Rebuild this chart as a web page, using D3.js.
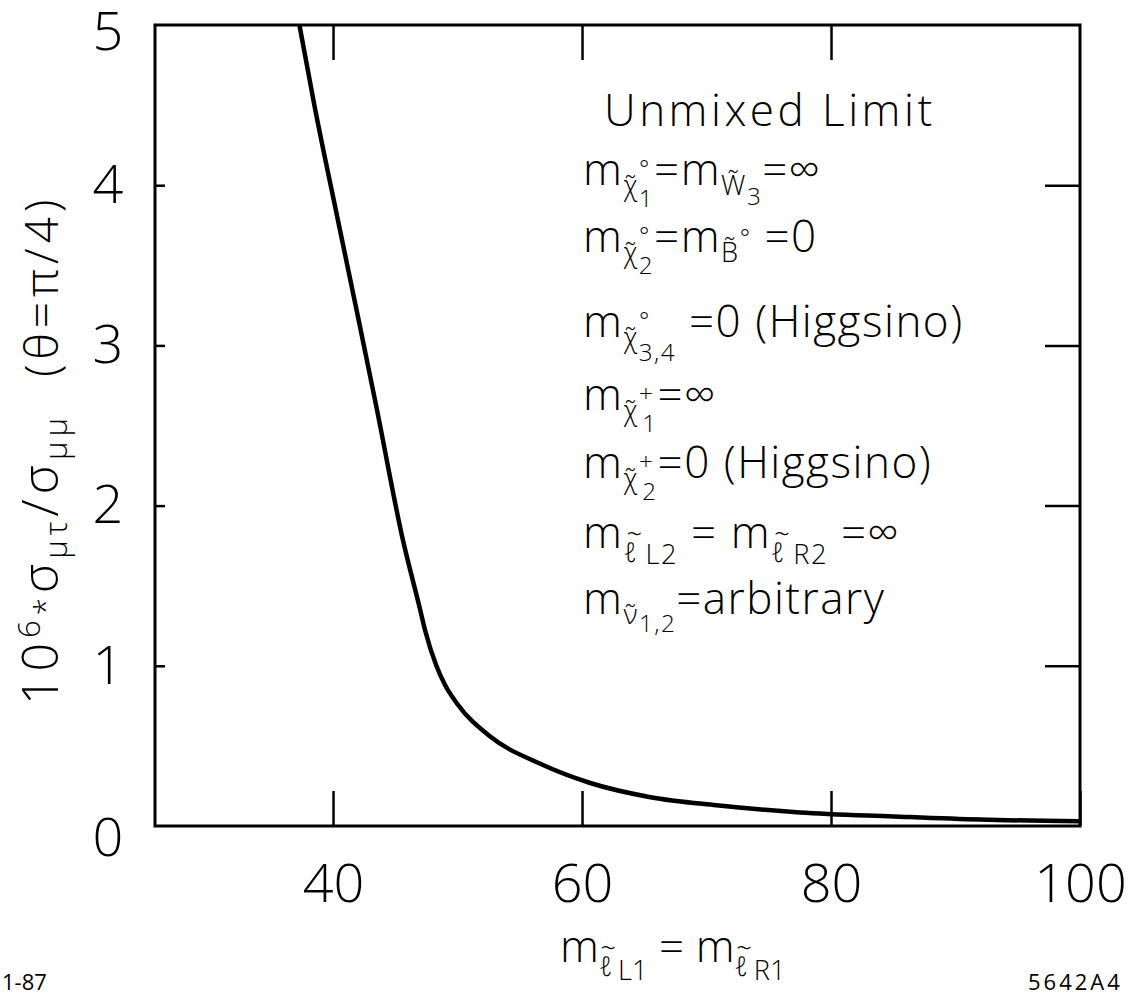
<!DOCTYPE html>
<html>
<head>
<meta charset="utf-8">
<script src="https://cdn.jsdelivr.net/npm/d3@7"></script>
<style>
  body { margin: 0; background: #fff; }
  text { font-family: "Open Sans", "DejaVu Sans", sans-serif; font-weight: 300; fill: #000; }
</style>
</head>
<body>
<div id="chart"></div>
<script>
// ************************** DATA **************************
// slepton mass m(l~L1) = m(l~R1)
var slepMass = [37.3, 38.5, 40.4, 42, 43.5, 45.6, 47.0, 47.4, 48.3, 49.0, 50, 52.6, 56.6, 60.6, 65.5, 70.8, 77.5, 85, 92, 100];
// 10^6 * sigma(mu tau) / sigma(mu mu)
var crossRatio = [5.0, 4.5, 3.78, 3.18, 2.61, 1.79, 1.35, 1.22, 1.0, 0.88, 0.76, 0.56, 0.39, 0.27, 0.18, 0.13, 0.085, 0.06, 0.04, 0.03];

var xTicks = [40, 60, 80, 100];
var yTicks = [0, 1, 2, 3, 4, 5];
var xDomain = [25.7, 100];
var yDomain = [0, 5];

// rich text segments: [text, baseline shift, size factor, dx]
var legendTitle = "Unmixed Limit";
var legendLines = [
  [["m"], ["χ\u0303", 10, 0.62], ["°", -8, 0.55, 0], ["1", 22, 0.55, -12], ["=", 0, 1], ["m"], ["W\u0303", 10, 0.62], ["3", 20, 0.55], ["=∞", 0, 1]],
  [["m"], ["χ\u0303", 10, 0.62], ["°", -8, 0.55, 0], ["2", 22, 0.55, -12], ["=", 0, 1], ["m"], ["B\u0303", 10, 0.62], ["°", -6, 0.55], [" =0", 0, 1]],
  [["m"], ["χ\u0303", 10, 0.62], ["°", -8, 0.55, 0], ["3,4", 24, 0.55, -12], ["  =0 (Higgsino)", 0, 1]],
  [["m"], ["χ\u0303", 10, 0.62], ["+", -8, 0.55, 0], ["1", 22, 0.55, -12], ["=∞", 0, 1]],
  [["m"], ["χ\u0303", 10, 0.62], ["+", -8, 0.55, 0], ["2", 22, 0.55, -12], ["=0 (Higgsino)", 0, 1]],
  [["m"], ["ℓ", 14, 0.62], ["~", -4, 0.62, -12], ["L2", 16, 0.62, 2], [" = ", 0, 1], ["m"], ["ℓ", 14, 0.62], ["~", -4, 0.62, -12], ["R2", 16, 0.62, 2], [" =∞", 0, 1]],
  [["m"], ["ν\u0303", 10, 0.62], ["1,2", 18, 0.55], ["=arbitrary", 0, 1]]
];
var xTitle = [["m"], ["ℓ", 14, 0.62], ["~", -4, 0.62, -12], ["L1", 18, 0.62, 2], [" = ", 0, 1], ["m"], ["ℓ", 14, 0.62], ["~", -4, 0.62, -12], ["R1", 18, 0.62, 2]];
var yTitle = [["10"], ["6", -18, 0.62], ["*", -2, 0.62], ["σ", 0, 1], ["μτ", 9, 0.62], ["/σ", 0, 1], ["μμ", 9, 0.62], ["(θ=π/4)", 0, 0.92, 36]];

// ************************** CANVAS **************************
var svgWidth = 1148, svgHeight = 1001;
var frame = {left: 155, right: 1080, top: 25, bottom: 826};

var svg = d3.select("#chart").append("svg")
  .attr("width", svgWidth)
  .attr("height", svgHeight);

var x = d3.scaleLinear().domain(xDomain).range([frame.left, frame.right]);
var y = d3.scaleLinear().domain(yDomain).range([frame.bottom, frame.top]);

// rich text helper: segments carry their own baseline shift
function richText(sel, segs, baseSize) {
  var cur = 0;
  segs.forEach(function(s) {
    var shift = s[1] || 0, k = s[2] || 1;
    sel.append("tspan")
      .attr("dy", shift - cur)
      .attr("dx", s[3] || 0)
      .style("font-size", (baseSize * k) + "px")
      .text(s[0]);
    cur = shift;
  });
  return sel;
}

// ************************** AXES **************************
var tickFont = "54px";

var bottomAxis = svg.append("g")
  .attr("transform", `translate(0, ${frame.bottom})`)
  .call(d3.axisBottom(x).tickValues(xTicks).tickSize(-35).tickPadding(38).tickSizeOuter(0));

var topAxis = svg.append("g")
  .attr("transform", `translate(0, ${frame.top})`)
  .call(d3.axisTop(x).tickValues(xTicks.slice(0, 3)).tickSize(-35).tickFormat("").tickSizeOuter(0));

var leftAxis = svg.append("g")
  .attr("transform", `translate(${frame.left}, 0)`)
  .call(d3.axisLeft(y).tickValues(yTicks).tickFormat(d3.format("d")).tickSize(-10).tickPadding(34).tickSizeOuter(0));

var rightAxis = svg.append("g")
  .attr("transform", `translate(${frame.right}, 0)`)
  .call(d3.axisRight(y).tickValues(yTicks.slice(1, 5)).tickSize(-35).tickFormat("").tickSizeOuter(0));

[bottomAxis, topAxis, leftAxis, rightAxis].forEach(function(a) {
  a.select(".domain").remove();
  a.selectAll("line").attr("stroke", "#000").attr("stroke-width", 2.5);
  a.selectAll("text").style("font-size", tickFont).attr("font-family", null);
});
// the 0 and 5 inner ticks on the left sit on the frame
leftAxis.selectAll(".tick line").filter(function(d) { return d === 0 || d === 5; }).remove();
leftAxis.selectAll(".tick text").filter(function(d) { return d === 0; }).attr("dy", "0.55em");
leftAxis.selectAll(".tick text").filter(function(d) { return d === 5; }).attr("dy", "0.45em");
leftAxis.selectAll(".tick text").attr("text-anchor", "middle").attr("x", -(frame.left - 108));

// frame
svg.append("rect")
  .attr("x", frame.left).attr("y", frame.top)
  .attr("width", frame.right - frame.left).attr("height", frame.bottom - frame.top)
  .attr("fill", "none").attr("stroke", "#000").attr("stroke-width", 3);

// ************************** CURVE **************************
var points = slepMass.map(function(m, i) { return [m, crossRatio[i]]; });
var line = d3.line()
  .x(d => x(d[0]))
  .y(d => y(d[1]))
  .curve(d3.curveMonotoneX);

svg.append("path")
  .datum(points)
  .attr("d", line)
  .attr("fill", "none")
  .attr("stroke", "#000")
  .attr("stroke-width", 4.5);

// ************************** LEGEND TEXT **************************
svg.append("text")
  .attr("x", 604).attr("y", 126)
  .style("font-size", "44px")
  .style("letter-spacing", "3.5px")
  .text(legendTitle);

var lineBase = [185, 252, 337, 410, 478, 548, 614];
legendLines.forEach(function(segs, i) {
  var t = svg.append("text")
    .attr("x", 583).attr("y", lineBase[i])
    .style("letter-spacing", "1.5px");
  richText(t, segs, 44);
});

// ************************** AXIS TITLES **************************
var xt = svg.append("text").attr("x", 560).attr("y", 962);
richText(xt, xTitle, 44);

var yt = svg.append("text")
  .attr("transform", "translate(58, 705) rotate(-90)")
  .style("letter-spacing", "5px");
richText(yt, yTitle, 50);

svg.append("text")
  .attr("x", 2).attr("y", 990)
  .style("font-size", "22px").style("font-weight", 400)
  .text("1-87");

svg.append("text")
  .attr("x", 1028).attr("y", 990)
  .style("font-size", "22px").style("font-weight", 400)
  .style("letter-spacing", "3px")
  .text("5642A4");
</script>
</body>
</html>
